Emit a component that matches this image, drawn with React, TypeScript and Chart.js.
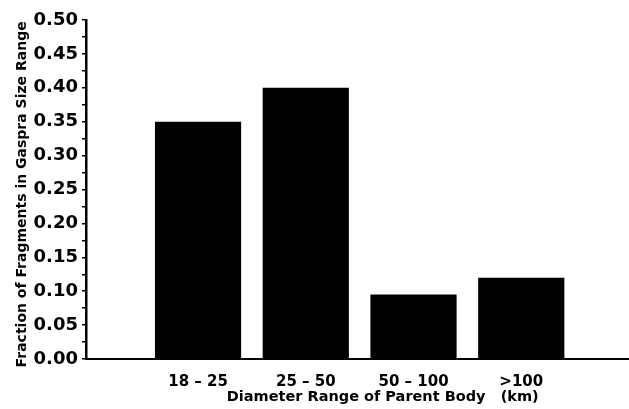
import React, { useEffect, useRef } from "react";
import { Chart, registerables } from "chart.js";

Chart.register(...registerables);

const categories = ["18 – 25", "25 – 50", "50 – 100", ">100"];
const fractions = [0.35, 0.4, 0.095, 0.12];
const yTickStep = 0.025;
const yMax = 0.5;
const yTitle = "Fraction of Fragments in Gaspra Size Range  ";
const xTitle = "          Diameter Range of Parent Body   (km)";

export default function App() {
  const ref = useRef<HTMLCanvasElement | null>(null);

  useEffect(() => {
    if (!ref.current) return;
    const family = "'DejaVu Sans', sans-serif";
    const points = categories.map((c, i) => ({ x: i + 1, y: fractions[i] }));
    const chart = new Chart(ref.current, {
      type: "bar",
      data: {
        datasets: [
          {
            data: points as any,
            backgroundColor: "#000",
            borderWidth: 0,
            barPercentage: 0.8,
            categoryPercentage: 1,
          },
        ],
      },
      options: {
        animation: false,
        responsive: true,
        maintainAspectRatio: false,
        layout: { padding: { top: 20, left: 0, right: 0, bottom: 0 } },
        plugins: { legend: { display: false }, tooltip: { enabled: false } },
        scales: {
          x: {
            type: "linear",
            offset: false,
            min: -0.04,
            max: categories.length + 1,
            grid: { display: false, drawTicks: false },
            border: { display: true, color: "#000", width: 2 },
            afterBuildTicks: (s: any) => {
              s.ticks = categories.map((c, i) => ({ value: i + 1 }));
            },
            ticks: {
              color: "#000",
              padding: 14,
              maxRotation: 0,
              autoSkip: false,
              font: { family, size: 15, weight: "bold" },
              callback: (v: any) => categories[Math.round(Number(v)) - 1] ?? "",
            },
            title: {
              display: true,
              text: xTitle,
              color: "#000",
              font: { family, size: 14.5, weight: "bold" },
              padding: { top: 0, bottom: 3 },
            },
            afterFit: (s: any) => {
              s.height = 50;
              s.paddingLeft = 0;
              s.paddingRight = 0;
            },
          },
          y: {
            min: 0,
            max: yMax,
            grid: {
              display: true,
              drawOnChartArea: false,
              drawTicks: true,
              tickLength: 4,
              color: "#000",
              lineWidth: 1.5,
            },
            border: { display: true, color: "#000", width: 2.5 },
            ticks: {
              stepSize: yTickStep,
              autoSkip: false,
              color: "#000",
              padding: 4,
              font: { family, size: 18, weight: "bold" },
              callback: (v: any) => {
                const n = Math.round(Number(v) * 1000);
                return n % 50 === 0 ? (n / 1000).toFixed(2) : "";
              },
            },
            title: {
              display: true,
              text: yTitle,
              color: "#000",
              font: { family, size: 14, weight: "bold" },
              padding: { top: 14, bottom: 0 },
            },
            afterFit: (s: any) => {
              s.width = 86;
            },
          },
        },
      },
    });
    return () => chart.destroy();
  }, []);

  return (
    <div
      style={{
        position: "absolute",
        left: 0,
        top: 0,
        width: 629,
        height: 409,
        background: "#fff",
      }}
    >
      <canvas ref={ref} />
    </div>
  );
}
